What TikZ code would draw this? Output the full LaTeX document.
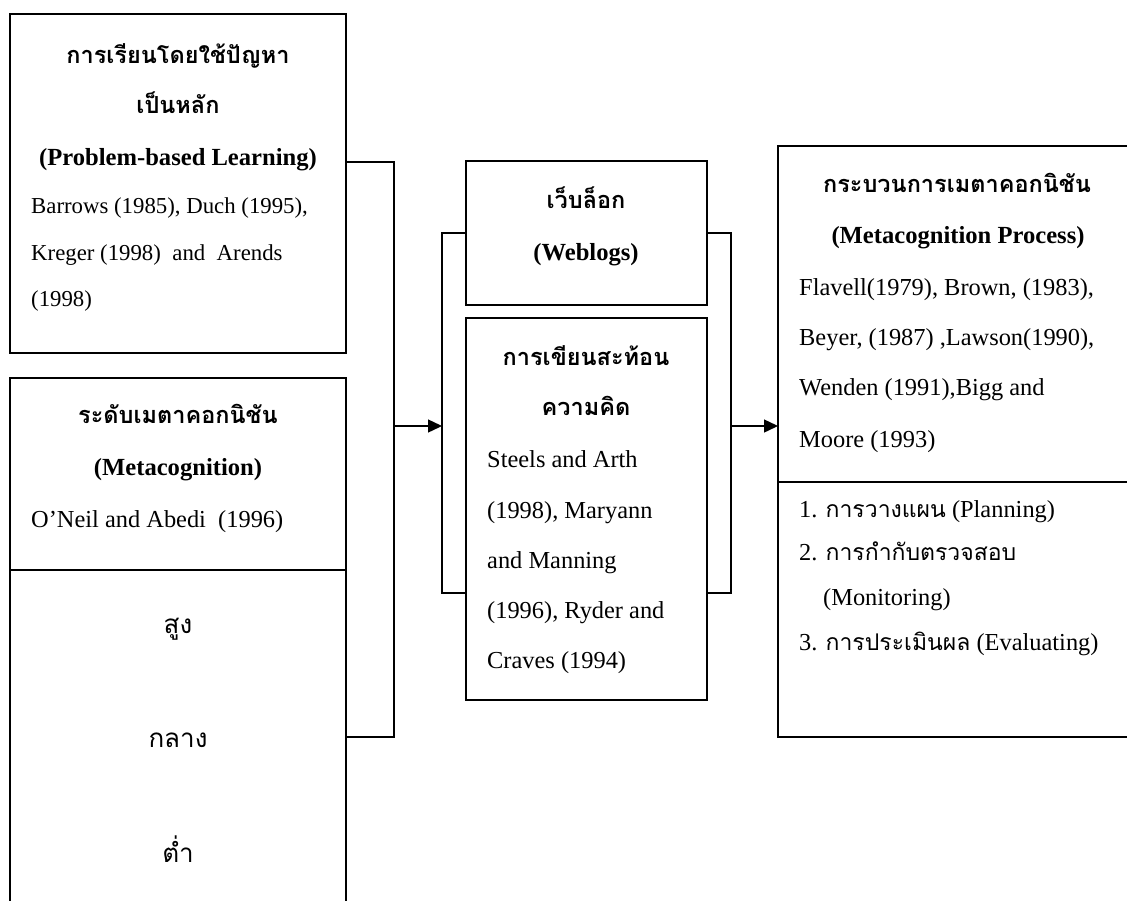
\documentclass[tikz,border=0pt]{standalone}
\usepackage{fontspec}
\setmainfont{Liberation Serif}
\newfontfamily\thai[Script=Thai]{Loma}
\usetikzlibrary{arrows.meta}
\tikzset{
  boxline/.style={line width=2.4pt, line join=miter},
  conn/.style={line width=1.4pt},
  arr/.style={line width=1.4pt, -{Triangle[length=14pt,width=13pt]}},
  area/.style={draw=none, inner sep=0pt, outer sep=0pt, anchor=north west},
  ctr/.style={anchor=base, inner sep=0pt},
  lft/.style={anchor=base west, inner sep=0pt},
  lata/.style={font=\fontsize{22.8}{27}\selectfont},
  lat/.style={font=\fontsize{24.4}{29}\selectfont},
  latb/.style={font=\fontsize{24.6}{29}\selectfont\bfseries},
  thb/.style={font=\fontsize{23.5}{28}\selectfont\thai\bfseries},
  thr/.style={font=\fontsize{26}{30}\selectfont\thai},
}
\newcommand{\thl}[1]{{\thai\fontsize{23}{27}\selectfont #1}}
\begin{document}
\begin{tikzpicture}[x=1pt,y=-1pt]
\useasboundingbox (0,0) rectangle (1127,900);
% boxes
\node[area, minimum width=336pt, minimum height=339pt] (A) at (10,14) {};
\node[area, minimum width=336pt, minimum height=530pt] (B) at (10,378) {};
\node[area, minimum width=241pt, minimum height=144pt] (C) at (466,161) {};
\node[area, minimum width=241pt, minimum height=382pt] (D) at (466,318) {};
\node[area, minimum width=360pt, minimum height=591pt] (E) at (778,146) {};
\draw[boxline] (A.north west) rectangle (A.south east);
\draw[boxline] (C.north west) rectangle (C.south east);
\draw[boxline] (D.north west) rectangle (D.south east);
\draw[boxline] (B.south west) -- (B.north west) -- (B.north east) -- (B.south east);
\coordinate (bdiv) at (0,570);
\draw[boxline] (B.west |- bdiv) -- (B.east |- bdiv);
\draw[boxline] (E.north east) -- (E.north west) -- (E.south west) -- (E.south east);
\coordinate (ediv) at (0,482);
\draw[boxline] (E.west |- ediv) -- (E.east |- ediv);
% connectors
\coordinate (ltop) at (394,162);
\coordinate (lbot) at (394,737);
\coordinate (lmid) at (394,426);
\coordinate (mtop) at (442,233);
\coordinate (mbot) at (442,593);
\coordinate (rtop) at (731,233);
\coordinate (rbot) at (731,593);
\draw[conn] (A.east |- ltop) -- (ltop) -- (lbot) -- (B.east |- lbot);
\draw[arr] (lmid) -- (mtop |- lmid);
\draw[conn] (C.west |- mtop) -- (mtop) -- (mbot) -- (D.west |- mbot);
\draw[conn] (C.east |- rtop) -- (rtop) -- (rbot) -- (D.east |- rbot);
\draw[arr] (rtop |- lmid) -- (E.west |- lmid);
% box A text
\node[ctr, thb] (a1) at (178,63) {การเรียนโดยใช้ปัญหา};
\node[ctr, thb] (a2) at (178,113) {เป็นหลัก};
\node[ctr, latb] (a3) at (178,165) {(Problem-based Learning)};
\node[lft, lata] (a4) at (31,213) {Barrows (1985), Duch (1995),};
\node[lft, lata] (a5) at (31,260) {Kreger (1998)\ \ and\ \ Arends};
\node[lft, lata] (a6) at (31,306) {(1998)};
% box B text
\node[ctr, thb] (b1) at (178,423) {ระดับเมตาคอกนิชัน};
\node[ctr, latb] (b2) at (178,475) {(Metacognition)};
\node[lft, lat] (b3) at (31,527) {O’Neil and Abedi\ \ (1996)};
\node[ctr, thr] (b4) at (178,633) {สูง};
\node[ctr, thr] (b5) at (178,747) {กลาง};
\node[ctr, thr] (b6) at (178,862) {ต่ำ};
% box C text
\node[ctr, thb] (c1) at (586,208) {เว็บล็อก};
\node[ctr, latb] (c2) at (586,260) {(Weblogs)};
% box D text
\node[ctr, thb] (d1) at (586,365) {การเขียนสะท้อน};
\node[ctr, thb] (d2) at (586,415) {ความคิด};
\node[lft, lat] (d3) at (487,467) {Steels and Arth};
\node[lft, lat] (d4) at (487,518) {(1998), Maryann};
\node[lft, lat] (d5) at (487,568) {and Manning};
\node[lft, lat] (d6) at (487,618) {(1996), Ryder and};
\node[lft, lat] (d7) at (487,668) {Craves (1994)};
% box E text
\node[ctr, thb] (e1) at (957,192) {กระบวนการเมตาคอกนิชัน};
\node[ctr, latb] (e2) at (958,243) {(Metacognition Process)};
\node[lft, lat] (e3) at (799,295) {Flavell(1979), Brown, (1983),};
\node[lft, lat] (e4) at (799,345) {Beyer, (1987) ,Lawson(1990),};
\node[lft, lat] (e5) at (799,395) {Wenden (1991),Bigg and};
\node[lft, lat] (e6) at (799,447) {Moore (1993)};
\node[lft, lat] (e7) at (799,517) {1. \thl{การวางแผน} (Planning)};
\node[lft, lat] (e8) at (799,560) {2. \thl{การกำกับตรวจสอบ}};
\node[lft, lat] (e9) at (823,605) {(Monitoring)};
\node[lft, lat] (e10) at (799,650) {3. \thl{การประเมินผล} (Evaluating)};
\end{tikzpicture}
\end{document}
